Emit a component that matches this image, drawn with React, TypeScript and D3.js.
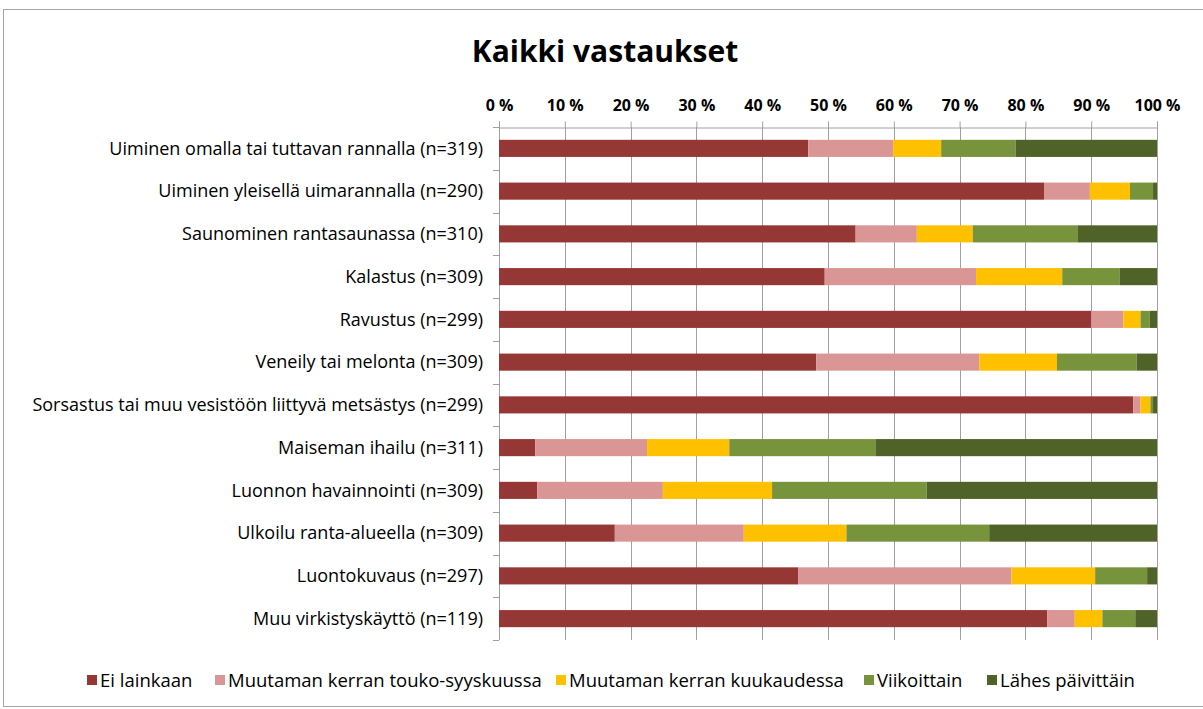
import { useEffect, useRef } from "react";
import * as d3 from "d3";

const categories = [
  "Uiminen omalla tai tuttavan rannalla (n=319)",
  "Uiminen yleisellä uimarannalla (n=290)",
  "Saunominen rantasaunassa (n=310)",
  "Kalastus (n=309)",
  "Ravustus (n=299)",
  "Veneily tai melonta (n=309)",
  "Sorsastus tai muu vesistöön liittyvä metsästys (n=299)",
  "Maiseman ihailu (n=311)",
  "Luonnon havainnointi (n=309)",
  "Ulkoilu ranta-alueella (n=309)",
  "Luontokuvaus (n=297)",
  "Muu virkistyskäyttö (n=119)",
];

const seriesNames = [
  "Ei lainkaan",
  "Muutaman kerran touko-syyskuussa",
  "Muutaman kerran kuukaudessa",
  "Viikoittain",
  "Lähes päivittäin",
];

const eiLainkaan = [47.0, 82.9, 54.2, 49.5, 90.0, 48.2, 96.4, 5.5, 5.8, 17.6, 45.5, 83.3];
const toukoSyys = [12.9, 6.9, 9.3, 23.0, 4.9, 24.8, 1.1, 17.0, 19.1, 19.6, 32.4, 4.2];
const kuukaudessa = [7.3, 6.1, 8.5, 13.1, 2.6, 11.8, 1.5, 12.5, 16.6, 15.6, 12.7, 4.2];
const viikoittain = [11.3, 3.5, 15.9, 8.7, 1.4, 12.1, 0.4, 22.2, 23.5, 21.7, 7.9, 5.0];
const lahesPaivittain = [21.5, 0.6, 12.1, 5.7, 1.1, 3.1, 0.6, 42.8, 35.0, 25.5, 1.5, 3.3];

const tickValues = [0, 10, 20, 30, 40, 50, 60, 70, 80, 90, 100];
const colors = ["#953735", "#d99694", "#ffc000", "#77933c", "#4f6228"];

const W = 1203;
const H = 709;
const FONT = "'Open Sans', sans-serif";

export default function App() {
  const svgRef = useRef<SVGSVGElement | null>(null);

  useEffect(() => {
    const svg = d3.select(svgRef.current);
    svg.selectAll("*").remove();

    const margin = { top: 127, left: 499, right: 46, bottom: 69 };
    const innerW = W - margin.left - margin.right;
    const innerH = H - margin.top - margin.bottom;

    // frame
    svg.append("rect").attr("width", W).attr("height", H).attr("fill", "#fff");
    svg.append("rect")
      .attr("x", 3.5).attr("y", 9.5)
      .attr("width", W - 3).attr("height", H - 12)
      .attr("fill", "#fff").attr("stroke", "#a6a6a6");

    svg.append("text")
      .attr("x", 605).attr("y", 62)
      .attr("text-anchor", "middle")
      .attr("font-family", FONT)
      .attr("font-size", 30)
      .attr("font-weight", "bold")
      .text("Kaikki vastaukset");

    const x = d3.scaleLinear().domain([0, 100]).range([0, innerW]);
    const y = d3.scaleBand().domain(categories).range([0, innerH]).paddingInner(0.6).paddingOuter(0.3);
    const yRows = d3.scaleBand().domain(categories).range([0, innerH]);

    const g = svg.append("g").attr("transform", `translate(${margin.left},${margin.top})`);

    // gridlines
    g.append("g")
      .selectAll("line")
      .data(tickValues)
      .join("line")
      .attr("x1", (d) => Math.round(x(d)) + 0.5)
      .attr("x2", (d) => Math.round(x(d)) + 0.5)
      .attr("y1", 0)
      .attr("y2", innerH)
      .attr("stroke", "#a0a0a0");

    // top axis
    const xAxis = d3.axisTop(x).tickValues(tickValues).tickSize(6).tickFormat((d) => `${d} %`);
    const xg = g.append("g").attr("transform", "translate(0,0.5)").call(xAxis);
    xg.select(".domain").attr("stroke", "#a0a0a0");
    xg.selectAll(".tick line").attr("stroke", "#a0a0a0");
    xg.selectAll(".tick text")
      .attr("font-family", FONT)
      .attr("font-size", 16)
      .attr("font-weight", "bold")
      .attr("fill", "#000")
      .attr("dy", -8);

    // left category ticks
    const leftTicks = [0, ...categories.map((c) => (yRows(c) ?? 0) + yRows.bandwidth())];
    g.append("g")
      .selectAll("line")
      .data(leftTicks)
      .join("line")
      .attr("x1", -6)
      .attr("x2", 0)
      .attr("y1", (d) => Math.round(d) + 0.5)
      .attr("y2", (d) => Math.round(d) + 0.5)
      .attr("stroke", "#a0a0a0");
    g.append("line")
      .attr("x1", 0.5).attr("x2", 0.5).attr("y1", 0).attr("y2", innerH)
      .attr("stroke", "#a0a0a0");

    const series = [eiLainkaan, toukoSyys, kuukaudessa, viikoittain, lahesPaivittain];
    const rows = categories.map((c, i) => {
      const r: Record<string, number | string> = { cat: c };
      seriesNames.forEach((s, j) => (r[s] = series[j][i]));
      return r;
    });
    const stacked = d3.stack<Record<string, number | string>>()
      .keys(seriesNames)
      .value((d, k) => d[k] as number)(rows);

    g.append("g")
      .selectAll("g")
      .data(stacked)
      .join("g")
      .attr("fill", (_, i) => colors[i])
      .selectAll("rect")
      .data((d) => d)
      .join("rect")
      .attr("x", (d) => x(d[0]))
      .attr("width", (d) => x(d[1]) - x(d[0]))
      .attr("y", (d) => y(d.data.cat as string) ?? 0)
      .attr("height", y.bandwidth());

    // category labels
    g.append("g")
      .selectAll("text")
      .data(categories)
      .join("text")
      .attr("x", -16)
      .attr("y", (d) => (yRows(d) ?? 0) + yRows.bandwidth() / 2)
      .attr("dy", "0.35em")
      .attr("text-anchor", "end")
      .attr("font-family", FONT)
      .attr("font-size", 18)
      .attr("fill", "#000")
      .text((d) => d);

    // legend
    const legendX = [87, 215, 556, 864, 987];
    const lg = svg.append("g").attr("transform", "translate(0,681)");
    seriesNames.forEach((s, i) => {
      lg.append("rect")
        .attr("x", legendX[i]).attr("y", -6)
        .attr("width", 10).attr("height", 10)
        .attr("fill", colors[i]);
      lg.append("text")
        .attr("x", legendX[i] + 13)
        .attr("y", 0)
        .attr("dy", "0.35em")
        .attr("font-family", FONT)
        .attr("font-size", 18.5)
        .text(s);
    });
  }, []);

  return (
    <svg
      ref={svgRef}
      width={W}
      height={H}
      style={{ position: "absolute", left: 0, top: 0, display: "block" }}
    />
  );
}
